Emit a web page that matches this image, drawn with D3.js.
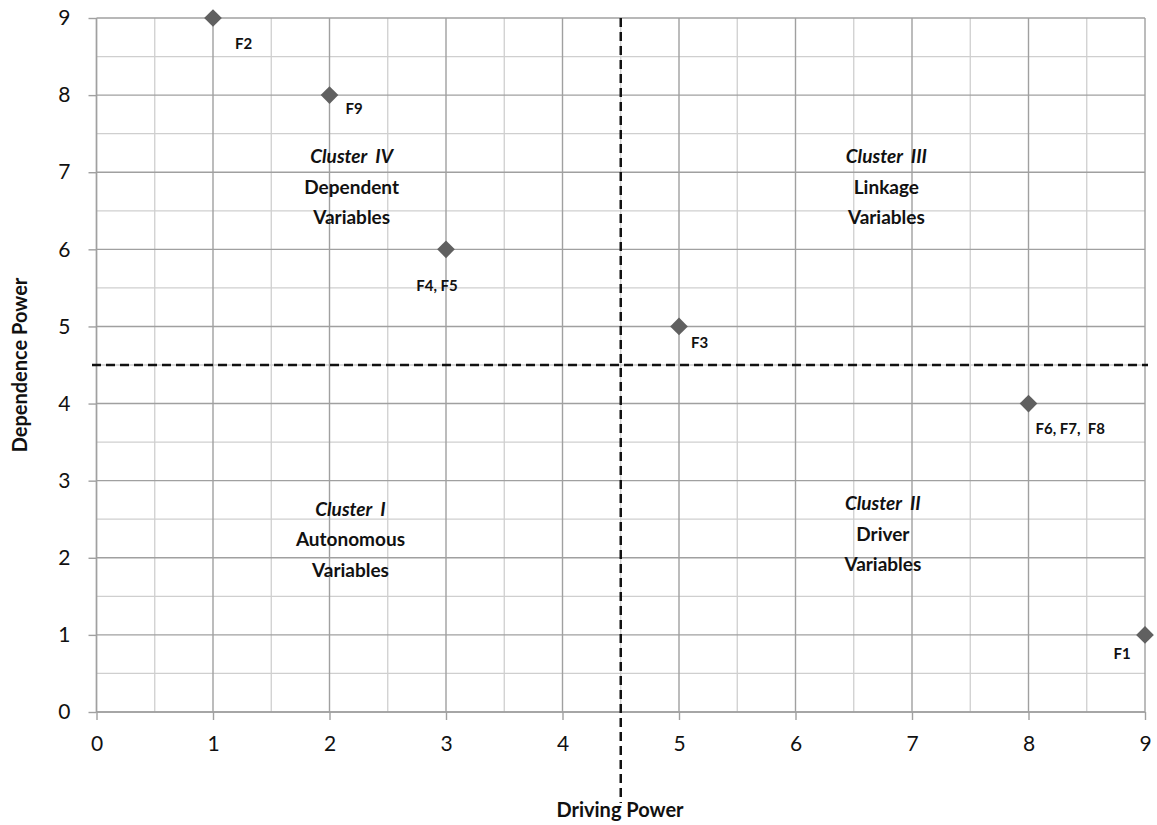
<!DOCTYPE html>
<html><head><meta charset="utf-8">
<script src="https://cdn.jsdelivr.net/npm/d3@7"></script>
<style>body{margin:0;background:#fff;} svg{display:block;font-family:Lato,"Noto Sans",sans-serif;}</style>
</head><body><svg id="c" width="1157" height="825"></svg>
<script>
const factorLabels = ["F2", "F9", "F4, F5", "F3", "F6, F7,  F8", "F1"];
const drivingPower = [1, 2, 3, 5, 8, 9];
const dependencePower = [9, 8, 6, 5, 4, 1];
const xTicks = [0,1,2,3,4,5,6,7,8,9];
const yTicks = [0,1,2,3,4,5,6,7,8,9];
const dividerX = 4.5;
const dividerY = 4.5;
const clusterTitles = ["Cluster  IV", "Cluster  III", "Cluster  I", "Cluster  II"];
const clusterNames = [["Dependent","Variables"],["Linkage","Variables"],["Autonomous","Variables"],["Driver","Variables"]];
const clusterCenters = [[2.19,7.2],[6.78,7.2],[2.18,2.63],[6.75,2.7]];
// label placement (style only): [dx, dy, anchor]
const labelOffsets = [[22,31,"start"],[16,19,"start"],[-9,42,"middle"],[12,22,"start"],[7,30,"start"],[-23,24,"middle"]];

const svg = d3.select("#c");
const x = d3.scaleLinear().domain([0,9]).range([96.5,1145]);
const y = d3.scaleLinear().domain([0,9]).range([712,18]);

const minor = d3.range(0.5, 9, 1);
const g = svg.append("g");
g.selectAll(".vmin").data(minor).join("line").attr("x1",d=>x(d)).attr("x2",d=>x(d)).attr("y1",y(0)).attr("y2",y(9)).attr("stroke","#cfcfcf").attr("stroke-width",1.3);
g.selectAll(".hmin").data(minor).join("line").attr("y1",d=>y(d)).attr("y2",d=>y(d)).attr("x1",x(0)).attr("x2",x(9)).attr("stroke","#cfcfcf").attr("stroke-width",1.3);
g.selectAll(".vmaj").data(xTicks).join("line").attr("x1",d=>x(d)).attr("x2",d=>x(d)).attr("y1",y(0)).attr("y2",y(9)).attr("stroke","#a0a0a0").attr("stroke-width",1.4);
g.selectAll(".hmaj").data(yTicks).join("line").attr("y1",d=>y(d)).attr("y2",d=>y(d)).attr("x1",x(0)).attr("x2",x(9)).attr("stroke","#a0a0a0").attr("stroke-width",1.4);

const xAxis = svg.append("g").attr("transform",`translate(0,${y(0)})`)
  .call(d3.axisBottom(x).tickValues(xTicks).tickSize(8).tickPadding(16).tickFormat(d3.format("d")));
const yAxis = svg.append("g").attr("transform",`translate(${x(0)},0)`)
  .call(d3.axisLeft(y).tickValues(yTicks).tickSize(8).tickPadding(18).tickFormat(d3.format("d")));
[xAxis,yAxis].forEach(a=>{
  a.select(".domain").attr("stroke","#a0a0a0").attr("stroke-width",1.4);
  a.selectAll(".tick line").attr("stroke","#a0a0a0").attr("stroke-width",1.4);
  a.selectAll(".tick text").attr("font-size",21).attr("fill","#111").attr("font-family","Lato,'Noto Sans',sans-serif");
});
xAxis.select(".domain").attr("d",`M${x(0)},0H${x(9)}`);
yAxis.select(".domain").attr("d",`M0,${y(0)}V${y(9)}`);

// dashed dividers
svg.append("line").attr("x1",x(dividerX)).attr("x2",x(dividerX)).attr("y1",y(9)).attr("y2",803)
  .attr("stroke","#111").attr("stroke-width",2.5).attr("stroke-dasharray","9,5");
svg.append("line").attr("x1",92).attr("x2",1148).attr("y1",y(dividerY)).attr("y2",y(dividerY))
  .attr("stroke","#111").attr("stroke-width",2.5).attr("stroke-dasharray","9,5");

// points
const pts = factorLabels.map((l,i)=>({l,x:drivingPower[i],y:dependencePower[i],o:labelOffsets[i]}));
svg.selectAll(".pt").data(pts).join("path")
  .attr("d",d3.symbol().type(d3.symbolDiamond2).size(200))
  .attr("transform",d=>`translate(${x(d.x)},${y(d.y)})`)
  .attr("fill","#606060");
svg.selectAll(".pl").data(pts).join("text")
  .attr("x",d=>x(d.x)+d.o[0]).attr("y",d=>y(d.y)+d.o[1])
  .attr("text-anchor",d=>d.o[2]).attr("font-size",15).attr("font-weight","bold").attr("fill","#111")
  .attr("xml:space","preserve").text(d=>d.l);

// cluster labels
clusterTitles.forEach((t,i)=>{
  const cx = x(clusterCenters[i][0]), cy = y(clusterCenters[i][1]);
  svg.append("text").attr("x",cx).attr("y",cy).attr("dy","0.35em").attr("text-anchor","middle").attr("font-size",19)
    .attr("font-weight","bold").attr("font-style","italic").attr("fill","#111").attr("xml:space","preserve").text(t);
  clusterNames[i].forEach((n,j)=>{
    svg.append("text").attr("x",cx).attr("y",cy+30.5*(j+1)).attr("dy","0.35em").attr("text-anchor","middle").attr("font-size",19)
      .attr("font-weight","bold").attr("fill","#111").text(n);
  });
});

// axis titles
svg.append("text").attr("x",620).attr("y",817).attr("text-anchor","middle").attr("font-size",20).attr("font-weight","bold").attr("fill","#111").text("Driving Power");
svg.append("text").attr("transform","translate(27,365) rotate(-90)").attr("text-anchor","middle").attr("font-size",20).attr("font-weight","bold").attr("fill","#111").text("Dependence Power");
</script></body></html>
